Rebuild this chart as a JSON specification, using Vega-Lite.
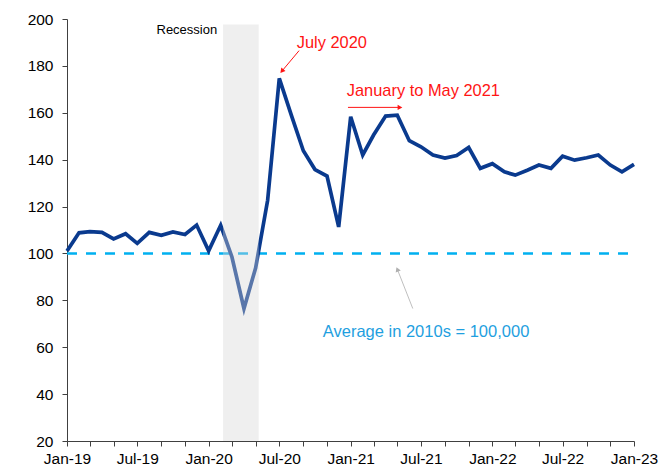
{
  "$schema": "https://vega.github.io/schema/vega-lite/v6.json",
  "width": 567,
  "height": 422,
  "autosize": "none",
  "padding": {"left": 67, "top": 19, "right": 37, "bottom": 27},
  "background": "white",
  "config": {
    "view": {"stroke": null},
    "font": "Liberation Sans",
    "axis": {
      "labelFont": "Liberation Sans",
      "labelFontSize": 15.5,
      "labelColor": "#000000",
      "domainColor": "#404040",
      "tickColor": "#404040",
      "tickSize": 5,
      "grid": false,
      "title": null
    }
  },
  "datasets": {
    "series": [
      {"date": "2019-01-01", "value": 101.0},
      {"date": "2019-02-01", "value": 108.8},
      {"date": "2019-03-01", "value": 109.3},
      {"date": "2019-04-01", "value": 109.0},
      {"date": "2019-05-01", "value": 106.2},
      {"date": "2019-06-01", "value": 108.4},
      {"date": "2019-07-01", "value": 104.3},
      {"date": "2019-08-01", "value": 109.0},
      {"date": "2019-09-01", "value": 107.7},
      {"date": "2019-10-01", "value": 109.2},
      {"date": "2019-11-01", "value": 108.1},
      {"date": "2019-12-01", "value": 112.1},
      {"date": "2020-01-01", "value": 101.1},
      {"date": "2020-02-01", "value": 112.0},
      {"date": "2020-03-01", "value": 98.5},
      {"date": "2020-04-01", "value": 76.5},
      {"date": "2020-05-01", "value": 93.8},
      {"date": "2020-06-01", "value": 122.7},
      {"date": "2020-07-01", "value": 174.7},
      {"date": "2020-08-01", "value": 159.0},
      {"date": "2020-09-01", "value": 143.8},
      {"date": "2020-10-01", "value": 135.8},
      {"date": "2020-11-01", "value": 133.0},
      {"date": "2020-12-01", "value": 111.3},
      {"date": "2021-01-01", "value": 158.3},
      {"date": "2021-02-01", "value": 142.0},
      {"date": "2021-03-01", "value": 150.5},
      {"date": "2021-04-01", "value": 158.6},
      {"date": "2021-05-01", "value": 159.0},
      {"date": "2021-06-01", "value": 148.1},
      {"date": "2021-07-01", "value": 145.5},
      {"date": "2021-08-01", "value": 142.0},
      {"date": "2021-09-01", "value": 140.7},
      {"date": "2021-10-01", "value": 141.8},
      {"date": "2021-11-01", "value": 145.2},
      {"date": "2021-12-01", "value": 136.3},
      {"date": "2022-01-01", "value": 138.3},
      {"date": "2022-02-01", "value": 134.8},
      {"date": "2022-03-01", "value": 133.4},
      {"date": "2022-04-01", "value": 135.5},
      {"date": "2022-05-01", "value": 137.7},
      {"date": "2022-06-01", "value": 136.3},
      {"date": "2022-07-01", "value": 141.5},
      {"date": "2022-08-01", "value": 139.8},
      {"date": "2022-09-01", "value": 140.8},
      {"date": "2022-10-01", "value": 142.0},
      {"date": "2022-11-01", "value": 137.7},
      {"date": "2022-12-01", "value": 134.8},
      {"date": "2023-01-01", "value": 138.0}
    ]
  },
  "encoding": {
    "x": {
      "field": "date",
      "type": "temporal",
      "scale": {
        "type": "utc",
        "domain": [
          {"year": 2019, "month": 1, "date": 1, "utc": true},
          {"year": 2023, "month": 1, "date": 1, "utc": true}
        ]
      },
      "axis": {
        "tickCount": {"interval": "month", "step": 2},
        "labelExpr": "utcmonth(datum.value) % 6 == 0 ? utcFormat(datum.value, '%b-%y') : ''",
        "labelOverlap": false,
        "labelFlush": false,
        "labelPadding": 5
      }
    },
    "y": {
      "field": "value",
      "type": "quantitative",
      "scale": {"domain": [20, 200], "nice": false, "zero": false},
      "axis": {"values": [20, 40, 60, 80, 100, 120, 140, 160, 180, 200], "labelPadding": 9}
    }
  },
  "layer": [
    {
      "data": {"values": [{"date": "2019-01-01", "value": 100}, {"date": "2023-01-01", "value": 100}]},
      "mark": {"type": "line", "color": "#00B0F0", "strokeWidth": 2.5, "strokeDash": [10, 9]}
    },
    {
      "data": {"name": "series"},
      "mark": {"type": "line", "color": "#0A3A8E", "strokeWidth": 3.7, "strokeJoin": "miter"}
    },
    {
      "data": {"values": [{"start": "2020-02-07", "end": "2020-05-09", "low": 20, "high": 197.7}]},
      "mark": {"type": "rect", "color": "#D6D6D6", "opacity": 0.39},
      "encoding": {
        "x": {"field": "start", "type": "temporal"},
        "x2": {"field": "end"},
        "y": {"field": "low", "type": "quantitative"},
        "y2": {"field": "high"}
      }
    },
    {
      "data": {"values": [{"date": "2020-01-23", "value": 195.3, "label": "Recession"}]},
      "mark": {"type": "text", "align": "right", "baseline": "middle", "fontSize": 13, "color": "#000000"},
      "encoding": {"text": {"field": "label"}}
    },
    {
      "data": {"values": [
        {"date": "2020-08-15", "value": 189.8, "label": "July 2020"},
        {"date": "2020-12-22", "value": 169.3, "label": "January to May 2021"}
      ]},
      "mark": {"type": "text", "align": "left", "baseline": "middle", "fontSize": 16.4, "color": "#FF1414"},
      "encoding": {"text": {"field": "label"}}
    },
    {
      "data": {"values": [{"date": "2020-10-21", "value": 66.4, "label": "Average in 2010s = 100,000"}]},
      "mark": {"type": "text", "align": "left", "baseline": "middle", "fontSize": 16.5, "color": "#1F9FE0"},
      "encoding": {"text": {"field": "label"}}
    },
    {
      "data": {"values": [{"d1": "2020-08-21", "v1": 186.5, "d2": "2020-07-09", "v2": 178.0}]},
      "mark": {"type": "rule", "color": "#FF1414", "strokeWidth": 1},
      "encoding": {
        "x": {"field": "d1", "type": "temporal"},
        "y": {"field": "v1", "type": "quantitative"},
        "x2": {"field": "d2"},
        "y2": {"field": "v2"}
      }
    },
    {
      "data": {"values": [{"date": "2020-07-09", "value": 178.0}]},
      "mark": {"type": "point", "shape": "triangle", "angle": 219.5, "filled": true, "size": 30, "color": "#FF1414", "opacity": 1}
    },
    {
      "data": {"values": [{"d1": "2020-12-25", "v1": 162.3, "d2": "2021-05-08", "v2": 162.3}]},
      "mark": {"type": "rule", "color": "#FF1414", "strokeWidth": 1},
      "encoding": {
        "x": {"field": "d1", "type": "temporal"},
        "y": {"field": "v1", "type": "quantitative"},
        "x2": {"field": "d2"},
        "y2": {"field": "v2"}
      }
    },
    {
      "data": {"values": [{"date": "2021-05-08", "value": 162.3}]},
      "mark": {"type": "point", "shape": "triangle-right", "filled": true, "size": 30, "color": "#FF1414", "opacity": 1}
    },
    {
      "data": {"values": [{"d1": "2021-06-10", "v1": 76.5, "d2": "2021-05-02", "v2": 92.9}]},
      "mark": {"type": "rule", "color": "#BFBFBF", "strokeWidth": 1},
      "encoding": {
        "x": {"field": "d1", "type": "temporal"},
        "y": {"field": "v1", "type": "quantitative"},
        "x2": {"field": "d2"},
        "y2": {"field": "v2"}
      }
    },
    {
      "data": {"values": [{"date": "2021-05-02", "value": 92.9}]},
      "mark": {"type": "point", "shape": "triangle", "angle": 338, "filled": true, "size": 30, "color": "#AFAFAF", "opacity": 1}
    }
  ]
}
